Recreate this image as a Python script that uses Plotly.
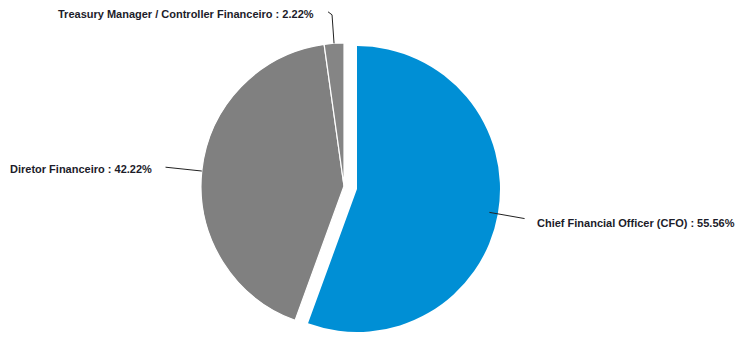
import math
import plotly.graph_objects as go

# Role distribution of respondents
labels = ["Chief Financial Officer (CFO)", "Diretor Financeiro",
          "Treasury Manager / Controller Financeiro"]
values = [55.56, 42.22, 2.22]
colors = ["#008fd5", "#808080", "#858585"]

W, H = 737, 337
R = 143                      # pie radius in px
CENTER = (344, 186)          # centre of the unshifted slices (px from top-left)
BLUE_SHIFT = (13, 3)         # offset of the exploded first slice (px)


def px_to_paper(x, y):
    return x / W, 1 - y / H


def domain_for(cx, cy):
    x0, y1 = px_to_paper(cx - R, cy - R)
    x1, y0 = px_to_paper(cx + R, cy + R)
    return dict(x=[x0, x1], y=[y0, y1])


fig = go.Figure()

# Base pie: grey slices, first slice left transparent
fig.add_trace(go.Pie(
    labels=labels, values=values, sort=False, direction="clockwise", rotation=0,
    marker=dict(colors=["rgba(0,0,0,0)"] + colors[1:],
                line=dict(color="white", width=[0, 1.2, 1.2])),
    textinfo="none", hoverinfo="label+percent", showlegend=False,
    domain=domain_for(*CENTER),
))

# Exploded first slice drawn on its own shifted pie
bc = (CENTER[0] + BLUE_SHIFT[0], CENTER[1] + BLUE_SHIFT[1])
fig.add_trace(go.Pie(
    labels=labels, values=values, sort=False, direction="clockwise", rotation=0,
    marker=dict(colors=[colors[0], "rgba(0,0,0,0)", "rgba(0,0,0,0)"],
                line=dict(color="white", width=0)),
    textinfo="none", hoverinfo="label+percent", showlegend=False,
    domain=domain_for(*bc),
))

# Mid-angle of each slice (degrees clockwise from 12 o'clock)
total = sum(values)
mids, acc = [], 0.0
for v in values:
    mids.append((acc + v / 2) / total * 360)
    acc += v


def polar(c, radius, ang):
    a = math.radians(ang)
    return c[0] + radius * math.sin(a), c[1] - radius * math.cos(a)


centers = [bc, CENTER, CENTER]
# (inner radius factor, outer radius factor, horizontal elbow length)
leaders = [(0.94, 1.19, 0), (1.0, 1.255, 0), (1.0, 1.2, -4)]

shapes, annotations = [], []
for i, (lab, v) in enumerate(zip(labels, values)):
    r0, r1, elbow = leaders[i]
    p0 = polar(centers[i], R * r0, mids[i])
    p1 = polar(centers[i], R * r1, mids[i])
    pts = [p0, p1]
    if elbow:
        pts.append((p1[0] + elbow, p1[1] - 3))
    path = "M " + " L ".join(
        f"{px_to_paper(*p)[0]:.5f},{px_to_paper(*p)[1]:.5f}" for p in pts)
    shapes.append(dict(type="path", path=path, xref="paper", yref="paper",
                       line=dict(color="#222222", width=1)))
    end = pts[-1]
    right_side = math.sin(math.radians(mids[i])) > 0.3
    tx = end[0] + (10 if right_side else -12)
    ty = end[1] + (4 if right_side else 2)
    px, py = px_to_paper(tx, ty)
    annotations.append(dict(
        x=px, y=py, xref="paper", yref="paper", showarrow=False,
        text=f"{lab} : {v:.2f}%",
        xanchor="left" if right_side else "right", yanchor="middle",
        font=dict(family="Liberation Sans, Arial, sans-serif", size=11,
                  color="#1c1c2a", weight="bold"),
    ))

fig.update_layout(
    width=W, height=H,
    margin=dict(l=0, r=0, t=0, b=0),
    paper_bgcolor="white", plot_bgcolor="white",
    shapes=shapes, annotations=annotations,
)

fig.write_html("out.html")
